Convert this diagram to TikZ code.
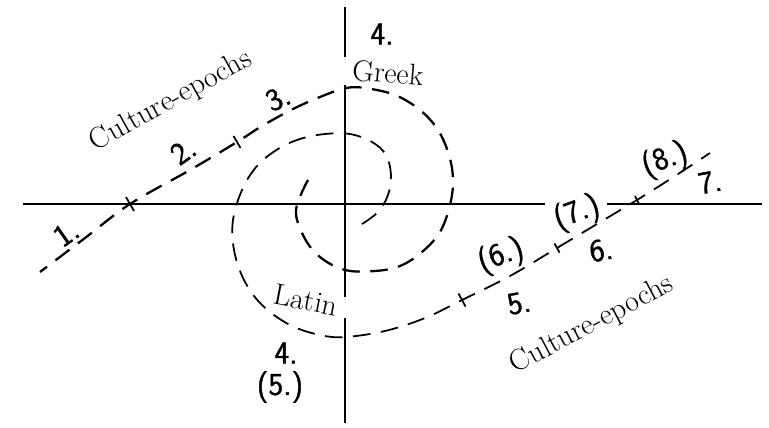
\documentclass[tikz,border=0pt]{standalone}
\usepackage{fontspec}
\usepackage{tikz}
\newfontfamily\handdigits[FakeBold=1.2]{Latin Modern Sans}
\tikzset{
  axis/.style={line width=0.9pt},
  spiral/.style={line width=1.3pt,dash pattern=on 10pt off 6pt},
  tickmark/.style={line width=1pt},
  word/.style={font=\fontsize{17}{17}\selectfont,inner sep=1pt},
  numeral/.style={font=\handdigits\fontsize{18}{18}\selectfont,inner sep=1pt},
}
\begin{document}
\begin{tikzpicture}[x=0.02cm,y=-0.02cm]
  \useasboundingbox (0,0) rectangle (769,427);
  % axes, broken where the labels sit
  \draw[axis] (23,204) -- (545,204);
  \draw[axis] (607,204) -- (762,204);
  \draw[axis] (345,7) -- (345,57);
  \draw[axis] (345,85) -- (345,297);
  \draw[axis] (345,318) -- (345,423);
  % inner spiral, out to the lower left
  \draw[spiral] plot[smooth,tension=0.6] coordinates {(308,180) (296,210) (304,237) (320,257) (345,270) (375,271) (400,266) (422,252) (440,232) (450,205) (453,180) (449,155) (438,130) (420,110) (395,95) (365,88) (346,88) (325,95) (295,108) (262,126) (237,142) (190,170) (130,204) (85,238) (40,272)};
  % outer spiral, out to the upper right
  \draw[spiral,line width=1pt] plot[smooth,tension=0.6] coordinates {(362,224) (378,212) (388,195) (391,175) (386,155) (372,142) (350,134) (325,134) (300,139) (278,149) (257,166) (242,190) (233,220) (234,250) (244,280) (262,305) (290,325) (320,335) (345,337) (385,331) (425,318) (462,300) (510,276) (557,248) (597,224) (637,200) (675,176) (710,153)};
  % epoch boundaries
  \draw[tickmark] foreach \x/\y/\dx/\dy in {130/204/4/7,237/142/3.5/6,462/300/3.5/6.5,557/248/2.5/4.5,637/200/2/4}{(\x-\dx,\y-\dy) -- (\x+\dx,\y+\dy)};
  % words
  \node[word,rotate=29] (epochsL) at (171,101) {Culture-epochs};
  \node[word,rotate=28] (epochsR) at (592,325) {Culture-epochs};
  \node[word,rotate=-5] (greek) at (388,73) {Greek};
  \node[word,rotate=-11] (latin) at (306,300) {Latin};
  % numbers
  \node[numeral] (top4) at (382,34) {4.};
  \node[numeral] (bot4) at (286,353) {4.};
  \node[numeral] (bot5) at (280,387) {(5.)};
  \node[numeral,rotate=35] (left1) at (66,233) {1.};
  \node[numeral,rotate=35] (left2) at (183,151) {2.};
  \node[numeral,rotate=25] (left3) at (278,98) {3.};
  \node[numeral,rotate=20] (up6) at (501,256) {(6.)};
  \node[numeral,rotate=10] (low5) at (519,303) {5.};
  \node[numeral,rotate=20] (up7) at (577,213) {(7.)};
  \node[numeral,rotate=10] (low6) at (601,250) {6.};
  \node[numeral,rotate=20] (up8) at (665,160) {(8.)};
  \node[numeral,rotate=10] (low7) at (710,182) {7.};
\end{tikzpicture}
\end{document}
